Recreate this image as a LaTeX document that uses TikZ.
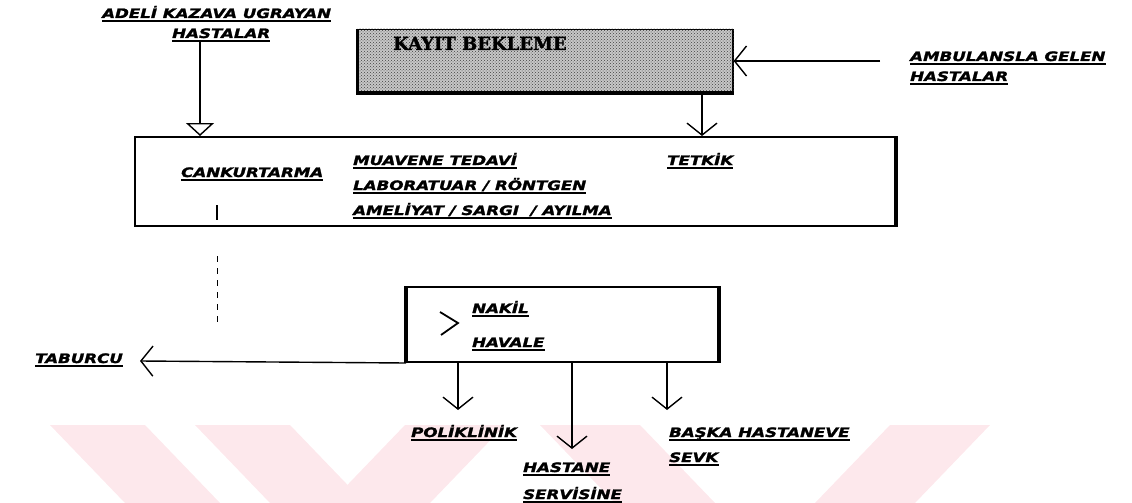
\documentclass[tikz,border=0pt]{standalone}
\usepackage{fontspec}
\newfontfamily\lblfont[FakeStretch=1.28,FakeBold=1.8]{DejaVu Sans}
\newfontfamily\kayfont[FakeBold=1.5]{DejaVu Serif}
\usetikzlibrary{arrows.meta,patterns}
\definecolor{wm}{RGB}{253,232,236}
\begin{document}
\begin{tikzpicture}[x=1pt,y=-1pt,
  lbl/.style={font=\lblfont\bfseries\itshape\fontsize{13}{14}\selectfont, inner sep=0pt, anchor=base west, text depth=4pt,
    append after command={([yshift=-3pt]\tikzlastnode.base west) edge[line width=1.8pt] ([yshift=-3pt]\tikzlastnode.base east)}},
  box/.style={draw, line width=2pt, inner sep=0pt},
  barb/.style={line width=1.4pt, -{Straight Barb[length=12pt,width=30pt,line width=1.4pt]}},
  tri/.style={line width=1.4pt, -{Triangle[open,length=13pt,width=28pt,line width=1.4pt]}},
  wmark/.style={fill=wm, draw=none},
  edgeline/.style={line width=3.5pt}
]
\useasboundingbox (0,0) rectangle (1132,503);
% watermark
\fill[wmark] (50,425) -- (145,425) -- (220,503) -- (125,503) -- cycle;
\fill[wmark] (195,425) -- (290,425) -- (365,503) -- (270,503) -- cycle;
\fill[wmark] (405,425) -- (505,425) -- (430,503) -- (330,503) -- cycle;
\fill[wmark] (540,425) -- (640,425) -- (715,503) -- (615,503) -- cycle;
\fill[wmark] (890,425) -- (990,425) -- (915,503) -- (815,503) -- cycle;

% boxes
\node[box, line width=1.2pt, fill=black!22, minimum width=375pt, minimum height=63pt] (kayit) at (545.5,61) {};
\fill[pattern=crosshatch dots, pattern color=black!75] (kayit.south west) rectangle (kayit.north east);
\draw[edgeline] (kayit.north west) -- (kayit.south west) -- (kayit.south east);
\node[font=\kayfont\bfseries\fontsize{18}{20}\selectfont, anchor=base west, inner sep=0pt] (kayt) at (393,50) {KAYIT BEKLEME};
\node[box, minimum width=760pt, minimum height=89pt] (main) at (515,181.5) {};
\draw[edgeline] (main.north east) -- (main.south east);
\node[box, minimum width=311pt, minimum height=75pt] (nakil) at (562.5,324.5) {};
\draw[edgeline] (nakil.north west) -- (nakil.south west);
\draw[line width=3pt] (nakil.north east) -- (nakil.south east);

% labels
\node[lbl] (adeli) at (102,18) {ADELİ KAZAVA UGRAYAN};
\node[lbl] (hast1) at (172,38) {HASTALAR};
\node[lbl] (amb1) at (910,61) {AMBULANSLA GELEN};
\node[lbl] (amb2) at (910,81) {HASTALAR};
\node[lbl] (cank) at (181,177) {CANKURTARMA};
\node[lbl] (muav) at (353,165) {MUAVENE TEDAVİ};
\node[lbl] (tetk) at (667,165) {TETKİK};
\node[lbl] (lab) at (353,190) {LABORATUAR / RÖNTGEN};
\node[lbl] (amel) at (353,215) {AMELİYAT / SARGI \ / AYILMA};
\node[lbl] (nakl) at (472,313) {NAKİL};
\node[lbl] (havl) at (472,347) {HAVALE};
\node[lbl] (tab) at (35,363) {TABURCU};
\node[lbl] (pol) at (411,437) {POLİKLİNİK};
\node[lbl] (baska) at (669,437) {BAŞKA HASTANEVE};
\node[lbl] (sevk) at (669,462) {SEVK};
\node[lbl] (hstn) at (523,472) {HASTANE};
\node[lbl] (serv) at (523,499) {SERVİSİNE};

% coordinates
\coordinate (cx1) at (200,0);
\coordinate (tx) at (702,0);
\coordinate (ambs) at (880,61);
\coordinate (tabend) at (140,361);
\coordinate (d1) at (458,410);
\coordinate (d2) at (572,449);
\coordinate (d3) at (667,410);
\coordinate (tk1) at (217,205);
\coordinate (tk2) at (217,220);
\coordinate (ds1) at (217,256);
\coordinate (ds2) at (217,322);

% connectors
\draw[tri] (hast1.south -| cx1) -- (main.north -| cx1);
\draw[barb] (ambs) -- (kayit.east);
\draw[barb] (kayit.south -| tx) -- (main.north -| tx);
\draw[barb] (nakil.south west) -- (tabend);
\draw[barb] (nakil.south -| d1) -- (d1);
\draw[barb] (nakil.south -| d2) -- (d2);
\draw[barb] (nakil.south -| d3) -- (d3);
\draw[line width=1.6pt] (tk1) -- (tk2);
\draw[line width=1pt, dash pattern=on 6pt off 6pt] (ds1) -- (ds2);
% chevron
\draw[line width=1.8pt] (440,312) -- (458,323) -- (441,335);
\end{tikzpicture}
\end{document}
